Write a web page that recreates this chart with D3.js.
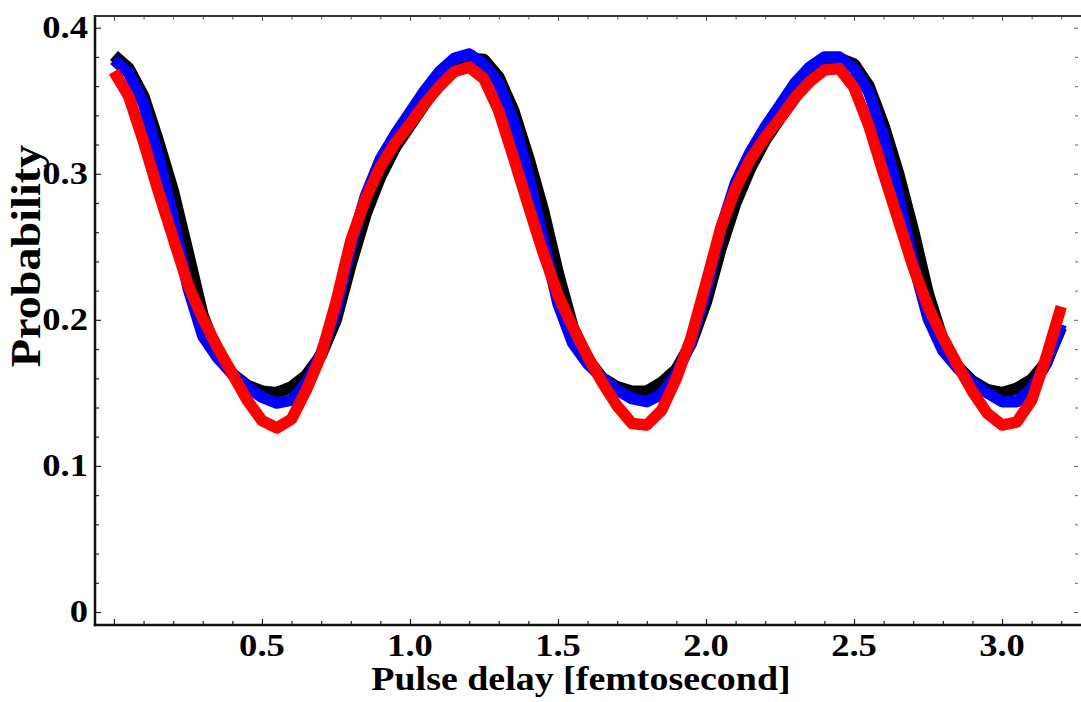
<!DOCTYPE html>
<html>
<head>
<meta charset="utf-8">
<script src="https://cdn.jsdelivr.net/npm/d3@7"></script>
<style>
  html, body { margin: 0; padding: 0; background: #fff; }
  svg { display: block; }
  text { font-family: "Liberation Serif", "Times New Roman", serif; font-weight: bold; fill: #000; }
</style>
</head>
<body>
<svg id="chart" width="1081" height="702"></svg>
<script>
// ---- data ----
const delay = [
  0.00,0.05,0.10,0.15,0.20,0.25,0.30,0.35,0.40,0.45,
  0.50,0.55,0.60,0.65,0.70,0.75,0.80,0.85,0.90,0.95,
  1.00,1.05,1.10,1.15,1.20,
  1.25,1.30,1.35,1.40,1.45,1.50,1.55,1.60,1.65,1.70,
  1.75,1.80,1.85,1.90,1.95,2.00,2.05,2.10,2.15,2.20,
  2.25,2.30,2.35,2.40,2.45,
  2.50,2.55,2.60,2.65,2.70,2.75,2.80,2.85,2.90,2.95,
  3.00,3.05,3.10,3.15,3.20
];
const blackSeries = [
  .381,.372,.353,.322,.288,.246,.203,.177,.163,.155,
  .151,.150,.154,.162,.176,.200,.238,.272,.298,.318,
  .333,.348,.362,.373,.379,
  .378,.366,.343,.311,.275,.232,.195,.173,.160,.154,
  .151,.151,.157,.166,.184,.212,.249,.280,.304,.323,
  .338,.352,.366,.375,.379,
  .375,.360,.333,.300,.261,.218,.186,.168,.158,.152,
  .150,.153,.159,.171,.195
];
const blueSeries = [
  .378,.369,.348,.312,.270,.222,.189,.174,.163,.154,
  .147,.143,.145,.157,.177,.206,.250,.285,.310,.327,
  .342,.357,.370,.379,.382,
  .375,.362,.336,.299,.255,.211,.184,.170,.160,.152,
  .146,.144,.149,.163,.185,.220,.262,.294,.315,.332,
  .347,.362,.373,.380,.380,
  .372,.356,.325,.285,.239,.201,.179,.167,.157,.150,
  .144,.144,.153,.170,.197
];
const redSeries = [
  .370,.353,.322,.288,.256,.224,.201,.181,.163,.145,
  .131,.126,.132,.152,.176,.212,.254,.283,.305,.321,
  .334,.348,.360,.370,.373,
  .365,.343,.311,.278,.246,.217,.195,.175,.157,.141,
  .129,.128,.138,.160,.188,.225,.263,.290,.310,.325,
  .338,.352,.363,.371,.372,
  .359,.333,.300,.268,.236,.209,.188,.169,.151,.136,
  .128,.130,.145,.175,.209
];
const xMajorTicks = [0.5, 1.0, 1.5, 2.0, 2.5, 3.0];
const xTickLabels = ["0.5", "1.0", "1.5", "2.0", "2.5", "3.0"];
const yMajorTicks = [0, 0.1, 0.2, 0.3, 0.4];
const yTickLabels = ["0", "0.1", "0.2", "0.3", "0.4"];
const xLabel = "Pulse delay [femtosecond]";
const yLabel = "Probability";

// ---- layout ----
const svg = d3.select("#chart");
const L = 95, R = 1079, T = 16, B = 625;
const x = d3.scaleLinear().domain([-0.064, 3.26]).range([L, R]);
const y = d3.scaleLinear().domain([-0.0089, 0.408]).range([B, T]);

svg.append("rect").attr("width", 1081).attr("height", 702).attr("fill", "#fff");

// series
const line = d3.line().x((d, i) => x(delay[i])).y(d => y(d)).curve(d3.curveLinear);
const series = [
  {vals: blackSeries, color: "#000000", w: 12},
  {vals: blueSeries, color: "#0000ff", w: 11.5},
  {vals: redSeries, color: "#ff0000", w: 11.5}
];
svg.append("g").selectAll("path").data(series).join("path")
  .attr("d", d => line(d.vals))
  .attr("fill", "none")
  .attr("stroke", d => d.color)
  .attr("stroke-width", d => d.w)
  .attr("stroke-linejoin", "round")
  .attr("stroke-linecap", "butt");

// minor/major tick positions
const xMinor = d3.range(0, 33).map(i => i / 10);
const yMinor = d3.range(0, 21).map(i => i / 50);
const isMajX = v => Math.abs(v * 2 - Math.round(v * 2)) < 1e-6;
const isMajY = v => Math.abs(v * 10 - Math.round(v * 10)) < 1e-6;

const axes = svg.append("g");
axes.append("g").attr("transform", `translate(0,${B})`)
  .call(d3.axisBottom(x).tickValues(xMinor).tickSize(0).tickFormat(""))
  .call(g => g.select(".domain").remove())
  .call(g => g.selectAll(".tick line").attr("y2", d => isMajX(d) ? -6 : -4).attr("stroke", "#222").attr("stroke-width", 1.2));
axes.append("g").attr("transform", `translate(0,${T})`)
  .call(d3.axisTop(x).tickValues(xMinor).tickSize(0).tickFormat(""))
  .call(g => g.select(".domain").remove())
  .call(g => g.selectAll(".tick line").attr("y2", d => isMajX(d) ? 5 : 3.5).attr("stroke", "#555").attr("stroke-width", 1));
axes.append("g").attr("transform", `translate(${R - 1},0)`)
  .call(d3.axisRight(y).tickValues(yMinor).tickSize(0).tickFormat(""))
  .call(g => g.select(".domain").remove())
  .call(g => g.selectAll(".tick line").attr("x2", d => isMajY(d) ? -4 : -3).attr("stroke", "#666").attr("stroke-width", 1));
axes.append("g").attr("transform", `translate(${L},0)`)
  .call(d3.axisLeft(y).tickValues(yMinor).tickSize(0).tickFormat(""))
  .call(g => g.select(".domain").remove())
  .call(g => g.selectAll(".tick line").attr("x2", d => isMajY(d) ? 6 : 4).attr("stroke", "#222").attr("stroke-width", 1.2));

// frame
axes.append("line").attr("x1", L).attr("x2", L).attr("y1", T - 1).attr("y2", B + 1.2).attr("stroke", "#111").attr("stroke-width", 2.5);
axes.append("line").attr("x1", L - 1.2).attr("x2", R + 2).attr("y1", B).attr("y2", B).attr("stroke", "#111").attr("stroke-width", 2.5);
axes.append("line").attr("x1", L).attr("x2", R + 2).attr("y1", T).attr("y2", T).attr("stroke", "#333").attr("stroke-width", 2);

// tick labels
const labels = svg.append("g");
labels.selectAll("text.xt").data(xMajorTicks).join("text").attr("class", "xt")
  .attr("transform", d => `translate(${x(d)},656) scale(1.18,1)`)
  .attr("text-anchor", "middle").attr("font-size", 31)
  .text((d, i) => xTickLabels[i]);
labels.selectAll("text.yt").data(yMajorTicks).join("text").attr("class", "yt")
  .attr("transform", d => `translate(88,${y(d) + 10.5}) scale(1.18,1)`)
  .attr("text-anchor", "end").attr("font-size", 31)
  .text((d, i) => yTickLabels[i]);

// axis titles
labels.append("text")
  .attr("transform", "translate(581,690) scale(1.15,1)")
  .attr("text-anchor", "middle").attr("font-size", 33)
  .text(xLabel);
labels.append("text")
  .attr("transform", "translate(40,256) rotate(-90) scale(1.1,1)")
  .attr("text-anchor", "middle").attr("font-size", 42)
  .text(yLabel);
</script>
</body>
</html>
